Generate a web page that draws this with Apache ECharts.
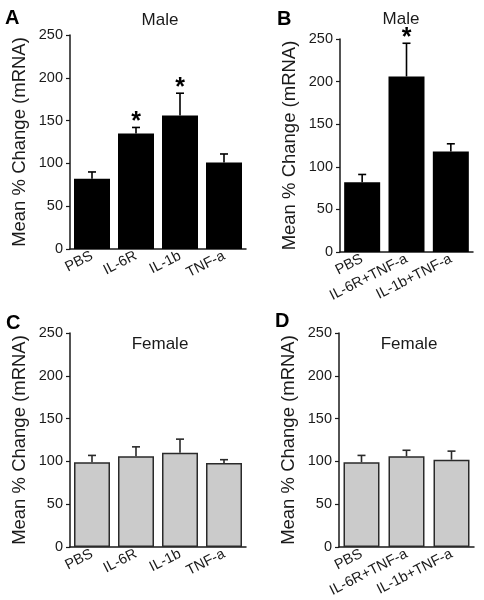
<!DOCTYPE html>
<html><head><meta charset="utf-8">
<script src="https://cdn.jsdelivr.net/npm/echarts@6/dist/echarts.min.js"></script>
<style>html,body{margin:0;padding:0;background:#fff}#c{width:484px;height:600px}</style>
</head><body><div id="c"></div>
<script>
// ---- data ----
const catsSingle = ['PBS', 'IL-6R', 'IL-1b', 'TNF-a'];
const catsCombo = ['PBS', 'IL-6R+TNF-a', 'IL-1b+TNF-a'];
const maleSingleMean = [82, 135, 156, 101];
const maleSingleErr = [90, 142, 182, 111];
const maleSingleSig = [0, 1, 1, 0];
const maleComboMean = [82, 206, 118];
const maleComboErr = [91, 245, 127];
const maleComboSig = [0, 1, 0];
const femaleSingleMean = [99, 106, 110, 98];
const femaleSingleErr = [107, 117, 126, 102];
const femaleSingleSig = [0, 0, 0, 0];
const femaleComboMean = [99, 106, 102];
const femaleComboErr = [107, 113, 112];
const femaleComboSig = [0, 0, 0];
const yMin = 0, yMax = 250, yStep = 50;
const panelLetters = ['A', 'B', 'C', 'D'];
const panelTitles = ['Male', 'Male', 'Female', 'Female'];
const yName = 'Mean % Change (mRNA)';

// ---- layout ----
const FONT = "'Liberation Sans', Arial, sans-serif";
const panels = [
  {cats: catsSingle, mean: maleSingleMean, err: maleSingleErr, sig: maleSingleSig, fill: '#000000', border: '#000000',
   grid: {left: 70, top: 35, width: 176, height: 214}, letter: [5, 8], title: [160, 20]},
  {cats: catsCombo, mean: maleComboMean, err: maleComboErr, sig: maleComboSig, fill: '#000000', border: '#000000',
   grid: {left: 340, top: 39, width: 133, height: 213}, letter: [277, 9], title: [401, 19]},
  {cats: catsSingle, mean: femaleSingleMean, err: femaleSingleErr, sig: femaleSingleSig, fill: '#cbcbcb', border: '#2a2a2a',
   grid: {left: 70, top: 333, width: 176, height: 214}, letter: [6, 313], title: [160, 344]},
  {cats: catsCombo, mean: femaleComboMean, err: femaleComboErr, sig: femaleComboSig, fill: '#cbcbcb', border: '#2a2a2a',
   grid: {left: 339, top: 333, width: 135, height: 214}, letter: [275, 311], title: [409, 344]}
];

const grids = [], xAxes = [], yAxes = [], series = [], graphics = [];
panels.forEach((p, k) => {
  grids.push(Object.assign({containLabel: false}, p.grid));
  xAxes.push({
    type: 'category', gridIndex: k, data: p.cats,
    axisLine: {lineStyle: {color: '#1a1a1a', width: 1.5}},
    axisTick: {alignWithLabel: true, length: 4, lineStyle: {color: '#1a1a1a', width: 1.2}},
    axisLabel: {rotate: 27, fontSize: 14.5, color: '#1a1a1a', fontFamily: FONT, margin: 6, interval: 0}
  });
  yAxes.push({
    type: 'value', gridIndex: k, min: yMin, max: yMax, interval: yStep,
    name: yName, nameLocation: 'middle', nameGap: 41, nameRotate: 90,
    nameTextStyle: {fontSize: 18.5, color: '#1a1a1a', fontFamily: FONT},
    axisLine: {show: true, lineStyle: {color: '#1a1a1a', width: 1.5}},
    axisTick: {show: true, length: 4, lineStyle: {color: '#1a1a1a', width: 1.2}},
    axisLabel: {fontSize: 14.5, color: '#1a1a1a', fontFamily: FONT, margin: 7},
    splitLine: {show: false}
  });
  series.push({
    type: 'bar', xAxisIndex: k, yAxisIndex: k, data: p.mean, barWidth: 36,
    itemStyle: {color: p.fill, borderColor: p.border, borderWidth: p.fill === '#000000' ? 0 : 1.5},
    silent: true, z: 2
  });
  const errData = p.mean.map((m, i) => [i, m, p.err[i], p.sig[i]]);
  series.push({
    type: 'custom', xAxisIndex: k, yAxisIndex: k, data: errData, z: 3, silent: true,
    renderItem: function (params, api) {
      const i = api.value(0);
      const a = api.coord([i, api.value(1)]);
      const b = api.coord([i, api.value(2)]);
      const col = p.border === '#000000' ? '#000000' : '#2a2a2a';
      const children = [
        {type: 'line', shape: {x1: a[0], y1: a[1], x2: b[0], y2: b[1]}, style: {stroke: col, lineWidth: 1.6}},
        {type: 'line', shape: {x1: b[0] - 4, y1: b[1], x2: b[0] + 4, y2: b[1]}, style: {stroke: col, lineWidth: 1.6}}
      ];
      if (api.value(3)) {
        children.push({type: 'text', x: b[0], y: b[1] + 7,
          style: {text: '*', fontSize: 25, fontWeight: 'bold', fontFamily: FONT, fill: '#000', align: 'center', verticalAlign: 'bottom'}});
      }
      return {type: 'group', children: children};
    }
  });
  graphics.push({type: 'text', left: p.letter[0], top: p.letter[1],
    style: {text: panelLetters[k], fontSize: 20, fontWeight: 'bold', fontFamily: FONT, fill: '#000'}});
  graphics.push({type: 'text', x: p.title[0], y: p.title[1],
    style: {text: panelTitles[k], fontSize: 17, fontFamily: FONT, fill: '#1a1a1a', align: 'center', verticalAlign: 'middle'}});
});

const chart = echarts.init(document.getElementById('c'), null, {renderer: 'canvas'});
chart.setOption({
  animation: false, backgroundColor: '#ffffff',
  grid: grids, xAxis: xAxes, yAxis: yAxes, series: series, graphic: graphics
});
</script></body></html>
